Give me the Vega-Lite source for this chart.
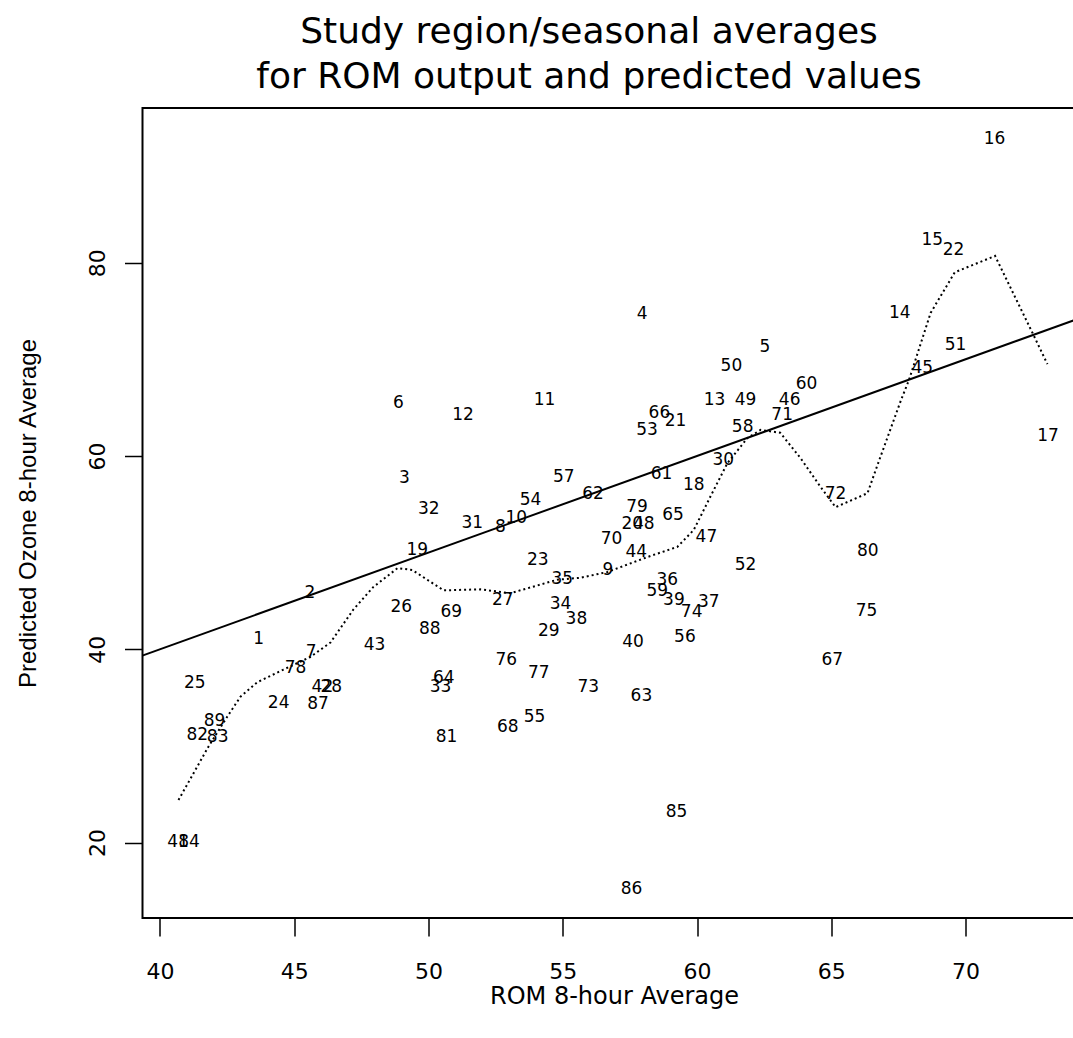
{
  "$schema": "https://vega.github.io/schema/vega-lite/v6.json",
  "width": 935,
  "height": 810,
  "autosize": {"type": "none"},
  "padding": {"left": 142.5, "top": 108, "right": 0, "bottom": 120},
  "background": "white",
  "config": {
    "view": {"stroke": "black", "strokeWidth": 2},
    "text": {"font": "DejaVu Sans"}
  },
  "title": {
    "text": ["Study region/seasonal  averages", "for ROM output and predicted values"],
    "font": "DejaVu Sans",
    "fontSize": 36,
    "fontWeight": "normal",
    "color": "black",
    "anchor": "middle",
    "baseline": "alphabetic",
    "offset": 20,
    "lineHeight": 45,
    "dx": -21,
    "dy": 36
  },
  "datasets": {
    "ref": [{"x": 38, "y": 38}, {"x": 76, "y": 76}],
    "smooth": [
      {"x": 40.69, "y": 24.4}, {"x": 41.8, "y": 29.9}, {"x": 42.5, "y": 33.0}, {"x": 43.0, "y": 35.1},
      {"x": 43.63, "y": 36.6}, {"x": 44.6, "y": 37.9}, {"x": 45.6, "y": 39.2}, {"x": 46.35, "y": 40.7},
      {"x": 47.2, "y": 44.1}, {"x": 47.95, "y": 46.45}, {"x": 48.85, "y": 48.4}, {"x": 49.4, "y": 48.2},
      {"x": 50.56, "y": 46.1}, {"x": 51.94, "y": 46.2}, {"x": 53.05, "y": 45.8}, {"x": 54.8, "y": 47.2},
      {"x": 55.66, "y": 47.4}, {"x": 56.67, "y": 48.0}, {"x": 58.16, "y": 49.55}, {"x": 59.27, "y": 50.6},
      {"x": 59.88, "y": 52.35}, {"x": 60.5, "y": 55.8}, {"x": 61.13, "y": 59.25}, {"x": 61.88, "y": 61.86},
      {"x": 62.37, "y": 62.7}, {"x": 63.1, "y": 62.4}, {"x": 63.85, "y": 59.8}, {"x": 64.6, "y": 56.8},
      {"x": 65.16, "y": 54.7}, {"x": 66.35, "y": 56.15}, {"x": 66.7, "y": 58.9}, {"x": 67.6, "y": 65.8},
      {"x": 67.9, "y": 67.9}, {"x": 68.7, "y": 74.8}, {"x": 69.6, "y": 79.0}, {"x": 71.1, "y": 80.7},
      {"x": 72.5, "y": 72.7}, {"x": 73.05, "y": 69.5}
    ],
    "labels": [
      {"id": "1", "x": 43.68, "y": 41.04}, {"id": "2", "x": 45.58, "y": 45.8}, {"id": "3", "x": 49.1, "y": 57.76},
      {"id": "4", "x": 57.96, "y": 74.66}, {"id": "5", "x": 62.53, "y": 71.3}, {"id": "6", "x": 48.88, "y": 65.5},
      {"id": "7", "x": 45.63, "y": 39.7}, {"id": "8", "x": 52.68, "y": 52.7}, {"id": "9", "x": 56.68, "y": 48.2},
      {"id": "10", "x": 53.27, "y": 53.55}, {"id": "11", "x": 54.32, "y": 65.8}, {"id": "12", "x": 51.29, "y": 64.24},
      {"id": "13", "x": 60.65, "y": 65.8}, {"id": "14", "x": 67.55, "y": 74.8}, {"id": "15", "x": 68.76, "y": 82.34},
      {"id": "16", "x": 71.08, "y": 92.8}, {"id": "17", "x": 73.07, "y": 62.1}, {"id": "18", "x": 59.88, "y": 57.0},
      {"id": "19", "x": 49.58, "y": 50.28}, {"id": "20", "x": 57.59, "y": 52.93}, {"id": "21", "x": 59.2, "y": 63.6},
      {"id": "22", "x": 69.55, "y": 81.3}, {"id": "23", "x": 54.07, "y": 49.24}, {"id": "24", "x": 44.42, "y": 34.42},
      {"id": "25", "x": 41.3, "y": 36.49}, {"id": "26", "x": 48.99, "y": 44.41}, {"id": "27", "x": 52.77, "y": 45.1},
      {"id": "28", "x": 46.38, "y": 36.06}, {"id": "29", "x": 54.48, "y": 41.93}, {"id": "30", "x": 60.98, "y": 59.6},
      {"id": "31", "x": 51.63, "y": 53.04}, {"id": "32", "x": 50.01, "y": 54.49}, {"id": "33", "x": 50.45, "y": 36.08},
      {"id": "34", "x": 54.92, "y": 44.66}, {"id": "35", "x": 54.98, "y": 47.25}, {"id": "36", "x": 58.89, "y": 47.18},
      {"id": "37", "x": 60.44, "y": 44.93}, {"id": "38", "x": 55.51, "y": 43.14}, {"id": "39", "x": 59.14, "y": 45.1},
      {"id": "40", "x": 57.62, "y": 40.73}, {"id": "41", "x": 40.67, "y": 20.1}, {"id": "42", "x": 46.05, "y": 36.06},
      {"id": "43", "x": 47.99, "y": 40.45}, {"id": "44", "x": 57.74, "y": 50.04}, {"id": "45", "x": 68.39, "y": 69.1},
      {"id": "46", "x": 63.45, "y": 65.8}, {"id": "47", "x": 60.35, "y": 51.65}, {"id": "48", "x": 58.02, "y": 52.93},
      {"id": "49", "x": 61.81, "y": 65.8}, {"id": "50", "x": 61.28, "y": 69.34}, {"id": "51", "x": 69.63, "y": 71.5},
      {"id": "52", "x": 61.81, "y": 48.73}, {"id": "53", "x": 58.14, "y": 62.7}, {"id": "54", "x": 53.8, "y": 55.45},
      {"id": "55", "x": 53.95, "y": 33.03}, {"id": "56", "x": 59.55, "y": 41.25}, {"id": "57", "x": 55.04, "y": 57.86},
      {"id": "58", "x": 61.7, "y": 63.03}, {"id": "59", "x": 58.52, "y": 46.07}, {"id": "60", "x": 64.08, "y": 67.45},
      {"id": "61", "x": 58.68, "y": 58.14}, {"id": "62", "x": 56.13, "y": 56.04}, {"id": "63", "x": 57.93, "y": 35.18},
      {"id": "64", "x": 50.57, "y": 37.07}, {"id": "65", "x": 59.11, "y": 53.9}, {"id": "66", "x": 58.6, "y": 64.42},
      {"id": "67", "x": 65.04, "y": 38.9}, {"id": "68", "x": 52.95, "y": 31.94}, {"id": "69", "x": 50.85, "y": 43.9},
      {"id": "70", "x": 56.82, "y": 51.38}, {"id": "71", "x": 63.17, "y": 64.2}, {"id": "72", "x": 65.16, "y": 56.07},
      {"id": "73", "x": 55.95, "y": 36.08}, {"id": "74", "x": 59.8, "y": 43.9}, {"id": "75", "x": 66.31, "y": 44.0},
      {"id": "76", "x": 52.9, "y": 38.9}, {"id": "77", "x": 54.11, "y": 37.52}, {"id": "78", "x": 45.05, "y": 38.04},
      {"id": "79", "x": 57.77, "y": 54.76}, {"id": "80", "x": 66.36, "y": 50.18}, {"id": "81", "x": 50.67, "y": 30.97},
      {"id": "82", "x": 41.39, "y": 31.14}, {"id": "83", "x": 42.15, "y": 30.9}, {"id": "84", "x": 41.08, "y": 20.1},
      {"id": "85", "x": 59.24, "y": 23.2}, {"id": "86", "x": 57.56, "y": 15.18}, {"id": "87", "x": 45.89, "y": 34.32},
      {"id": "88", "x": 50.05, "y": 42.07}, {"id": "89", "x": 42.03, "y": 32.59}
    ]
  },
  "encoding": {
    "x": {
      "field": "x",
      "type": "quantitative",
      "scale": {"domain": [39.35, 74.17], "nice": false, "zero": false},
      "axis": {
        "values": [40, 45, 50, 55, 60, 65, 70],
        "grid": false,
        "domain": false,
        "tickSize": 18,
        "tickWidth": 1.5,
        "tickColor": "black",
        "labelFont": "DejaVu Sans",
        "labelFontSize": 22,
        "labelColor": "black",
        "labelPadding": 25,
        "labelBaseline": "top",
        "title": "ROM 8-hour Average",
        "titleFont": "DejaVu Sans",
        "titleFontSize": 24,
        "titleFontWeight": "normal",
        "titleColor": "black",
        "titleX": 471.5,
        "titleY": 78,
        "titleAlign": "center",
        "titleBaseline": "middle"
      }
    },
    "y": {
      "field": "y",
      "type": "quantitative",
      "scale": {"domain": [12.2, 96.0], "nice": false, "zero": false},
      "axis": {
        "values": [20, 40, 60, 80],
        "grid": false,
        "domain": false,
        "tickSize": 18,
        "tickWidth": 1.5,
        "tickColor": "black",
        "labelFont": "DejaVu Sans",
        "labelFontSize": 22,
        "labelColor": "black",
        "labelAngle": 270,
        "labelAlign": "center",
        "labelBaseline": "middle",
        "labelPadding": 27,
        "title": "Predicted Ozone 8-hour Average",
        "titleFont": "Liberation Sans",
        "titleFontSize": 24,
        "titleFontWeight": "normal",
        "titleColor": "black",
        "titleAngle": 270,
        "titleX": -114.5,
        "titleY": 405,
        "titleAlign": "center",
        "titleBaseline": "middle"
      }
    }
  },
  "layer": [
    {
      "data": {"name": "ref"},
      "mark": {"type": "line", "color": "black", "strokeWidth": 2, "clip": true}
    },
    {
      "data": {"name": "smooth"},
      "mark": {"type": "line", "color": "black", "strokeWidth": 2, "strokeDash": [2, 3], "clip": true}
    },
    {
      "data": {"name": "labels"},
      "mark": {"type": "text", "font": "DejaVu Sans", "fontSize": 17, "color": "black", "align": "center", "baseline": "middle", "clip": true},
      "encoding": {"text": {"field": "id", "type": "nominal"}}
    }
  ]
}
